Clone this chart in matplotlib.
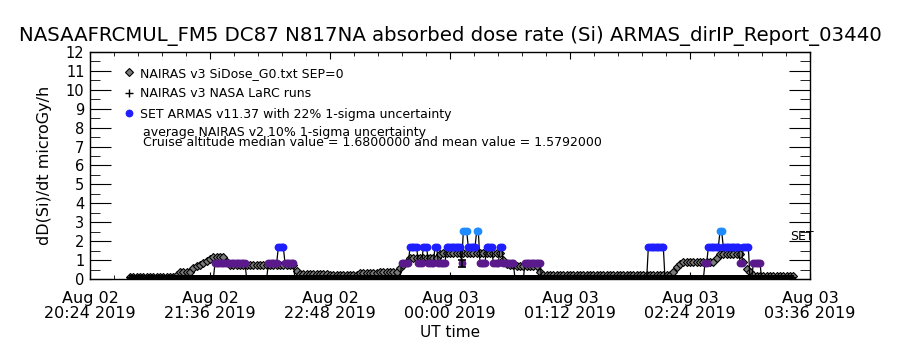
import numpy as np
import matplotlib
matplotlib.use("Agg")
import matplotlib.pyplot as plt
from matplotlib.lines import Line2D
from datetime import datetime, timedelta

# time axis: minutes after 2019-08-02 20:24 UT
t_start = datetime(2019, 8, 2, 20, 24)
x_range = (0, 432)

# NAIRAS v3 SiDose_G0 : one value every 2 min from minute 24, stored as (value, count) runs
nairas_t0, nairas_dt = 24, 2
nairas_runs = [(0.08, 14), (0.2, 1), (0.39, 4), (0.6, 1), (0.7, 1), (0.76, 1), (0.84, 1),
               (0.95, 1), (1.06, 1), (1.15, 4), (0.9, 1), (0.72, 20), (0.4, 1), (0.28, 9),
               (0.2, 9), (0.3, 6), (0.39, 6), (0.58, 1), (0.75, 1), (0.92, 1), (1.13, 9),
               (1.3, 1), (1.36, 18), (1.0, 1), (0.8, 1), (0.74, 2), (0.69, 7), (0.39, 1),
               (0.2, 39), (0.39, 1), (0.65, 1), (0.8, 1), (0.92, 1), (0.88, 9), (1.09, 1),
               (1.3, 7), (0.9, 1), (0.55, 1), (0.35, 1), (0.2, 1), (0.16, 12)]

# NAIRAS v3 NASA LaRC runs : one value every minute
larc_t0, larc_dt = 24, 1
larc_runs = [(0.05, 399)]

# SET ARMAS dose rate, one sample per minute, zero outside these segments
armas_range = (24, 422)
armas_start = [75, 107, 113, 117, 187, 192, 197, 200, 203, 207, 209, 214, 223, 224, 227,
               232, 234, 238, 242, 246, 248, 261, 335, 369, 371, 378, 380, 390, 392, 398]
armas_end = [93, 112, 116, 122, 191, 196, 199, 202, 206, 208, 213, 222, 223, 226, 231,
             233, 237, 241, 245, 247, 254, 270, 344, 370, 377, 379, 389, 391, 395, 402]
armas_dose = [0.84, 0.84, 1.68, 0.84, 0.84, 1.68, 0.84, 1.68, 0.84, 1.68, 0.84, 1.68, 0.84,
              2.52, 1.68, 2.52, 0.84, 1.68, 0.84, 1.68, 0.84, 0.84, 1.68, 0.84, 1.68, 2.52,
              1.68, 0.84, 1.68, 0.84]
dose_colors = {0.84: "#5a1a8c", 1.68: "#1e1eff", 2.52: "#1e8cff"}

# average NAIRAS v2 with 1-sigma bar
v2_t, v2_val, v2_err = 223, 0.82, 0.18

legend_lines = ["NAIRAS v3 SiDose_G0.txt SEP=0",
                "NAIRAS v3 NASA LaRC runs",
                "SET ARMAS v11.37 with 22% 1-sigma uncertainty"]
note_lines = ["average NAIRAS v2 10% 1-sigma uncertainty",
              "Cruise altitude median value = 1.6800000 and mean value = 1.5792000"]
title = "NASAAFRCMUL_FM5 DC87 N817NA absorbed dose rate (Si) ARMAS_dirIP_Report_03440"


def expand(t0, dt, runs):
    vals = np.concatenate([np.full(n, v) for v, n in runs])
    return t0 + dt * np.arange(len(vals)), vals


nt, nv = expand(nairas_t0, nairas_dt, nairas_runs)
lt, lv = expand(larc_t0, larc_dt, larc_runs)

at = np.arange(armas_range[0], armas_range[1] + 1)
av = np.zeros(len(at))
for s, e, d in zip(armas_start, armas_end, armas_dose):
    av[(at >= s) & (at <= e)] = d

fig = plt.figure(figsize=(9, 3.5), dpi=100)
ax = fig.add_axes([0.1, 0.2029, 0.8, 0.6485])

ax.plot(nt, nv, ls="none", marker="D", ms=4, mfc="#7a7a7a", mec="black", mew=0.8, zorder=3)
ax.plot(lt, lv, ls="none", marker="+", ms=5, mew=1.6, color="black", zorder=3.5)
ax.plot(at, av, color="black", lw=0.9, zorder=4)
for d, c in dose_colors.items():
    m = av == d
    ax.plot(at[m], av[m], ls="none", marker="o", ms=4.6, mfc=c, mec=c, zorder=5)
ax.errorbar([v2_t], [v2_val], yerr=[v2_err], fmt="none", ecolor="black", elinewidth=1.2,
            capsize=3, capthick=1.2, zorder=6)

ax.text(420, 2.25, "SET", fontsize=9, ha="left", va="center")

ax.set_xlim(*x_range)
ax.set_ylim(0, 12)
major = np.arange(0, 433, 72)
ax.set_xticks(major)
ax.set_xticks(np.arange(0, 433, 14.4), minor=True)
ax.set_xticklabels([(t_start + timedelta(minutes=float(m))).strftime("%b %d\n%H:%M %Y")
                    for m in major], fontsize=11.5, linespacing=0.95)
ax.set_yticks(np.arange(0, 13, 1))
ax.set_yticks(np.arange(0.5, 12, 1), minor=True)
ax.set_yticklabels([str(v) for v in range(13)], fontsize=10.5)
ax.tick_params(axis="x", which="both", direction="in", top=True, bottom=True, pad=9)
ax.tick_params(axis="x", which="major", length=5)
ax.tick_params(axis="x", which="minor", length=3)
ax.tick_params(axis="y", which="both", direction="in", left=True, right=True, pad=4)
ax.tick_params(axis="y", which="major", length=15)
ax.tick_params(axis="y", which="minor", length=7)
for sp in ax.spines.values():
    sp.set_linewidth(1.0)

ax.set_ylabel("dD(Si)/dt microGy/h", fontsize=11.5, labelpad=10)
ax.set_xlabel("UT time", fontsize=11, labelpad=3)
ax.set_title(title, fontsize=14.2, pad=8)

handles = [Line2D([], [], ls="none", marker="D", ms=4, mfc="#7a7a7a", mec="black", mew=0.8),
           Line2D([], [], ls="none", marker="+", ms=6, mew=1.0, color="black"),
           Line2D([], [], ls="none", marker="o", ms=4.6, mfc="#1e1eff", mec="#1e1eff")]
ax.legend(handles, legend_lines, loc="upper left", bbox_to_anchor=(0.045, 0.935),
          frameon=False, fontsize=9, handlelength=1.0, handletextpad=0.4,
          labelspacing=0.6, borderpad=0, borderaxespad=0)
ax.text(0.0735, 0.645, note_lines[0], transform=ax.transAxes, fontsize=9, va="center")
ax.text(0.0735, 0.6, note_lines[1], transform=ax.transAxes, fontsize=9, va="center")

fig.savefig("out.png", dpi=100)
